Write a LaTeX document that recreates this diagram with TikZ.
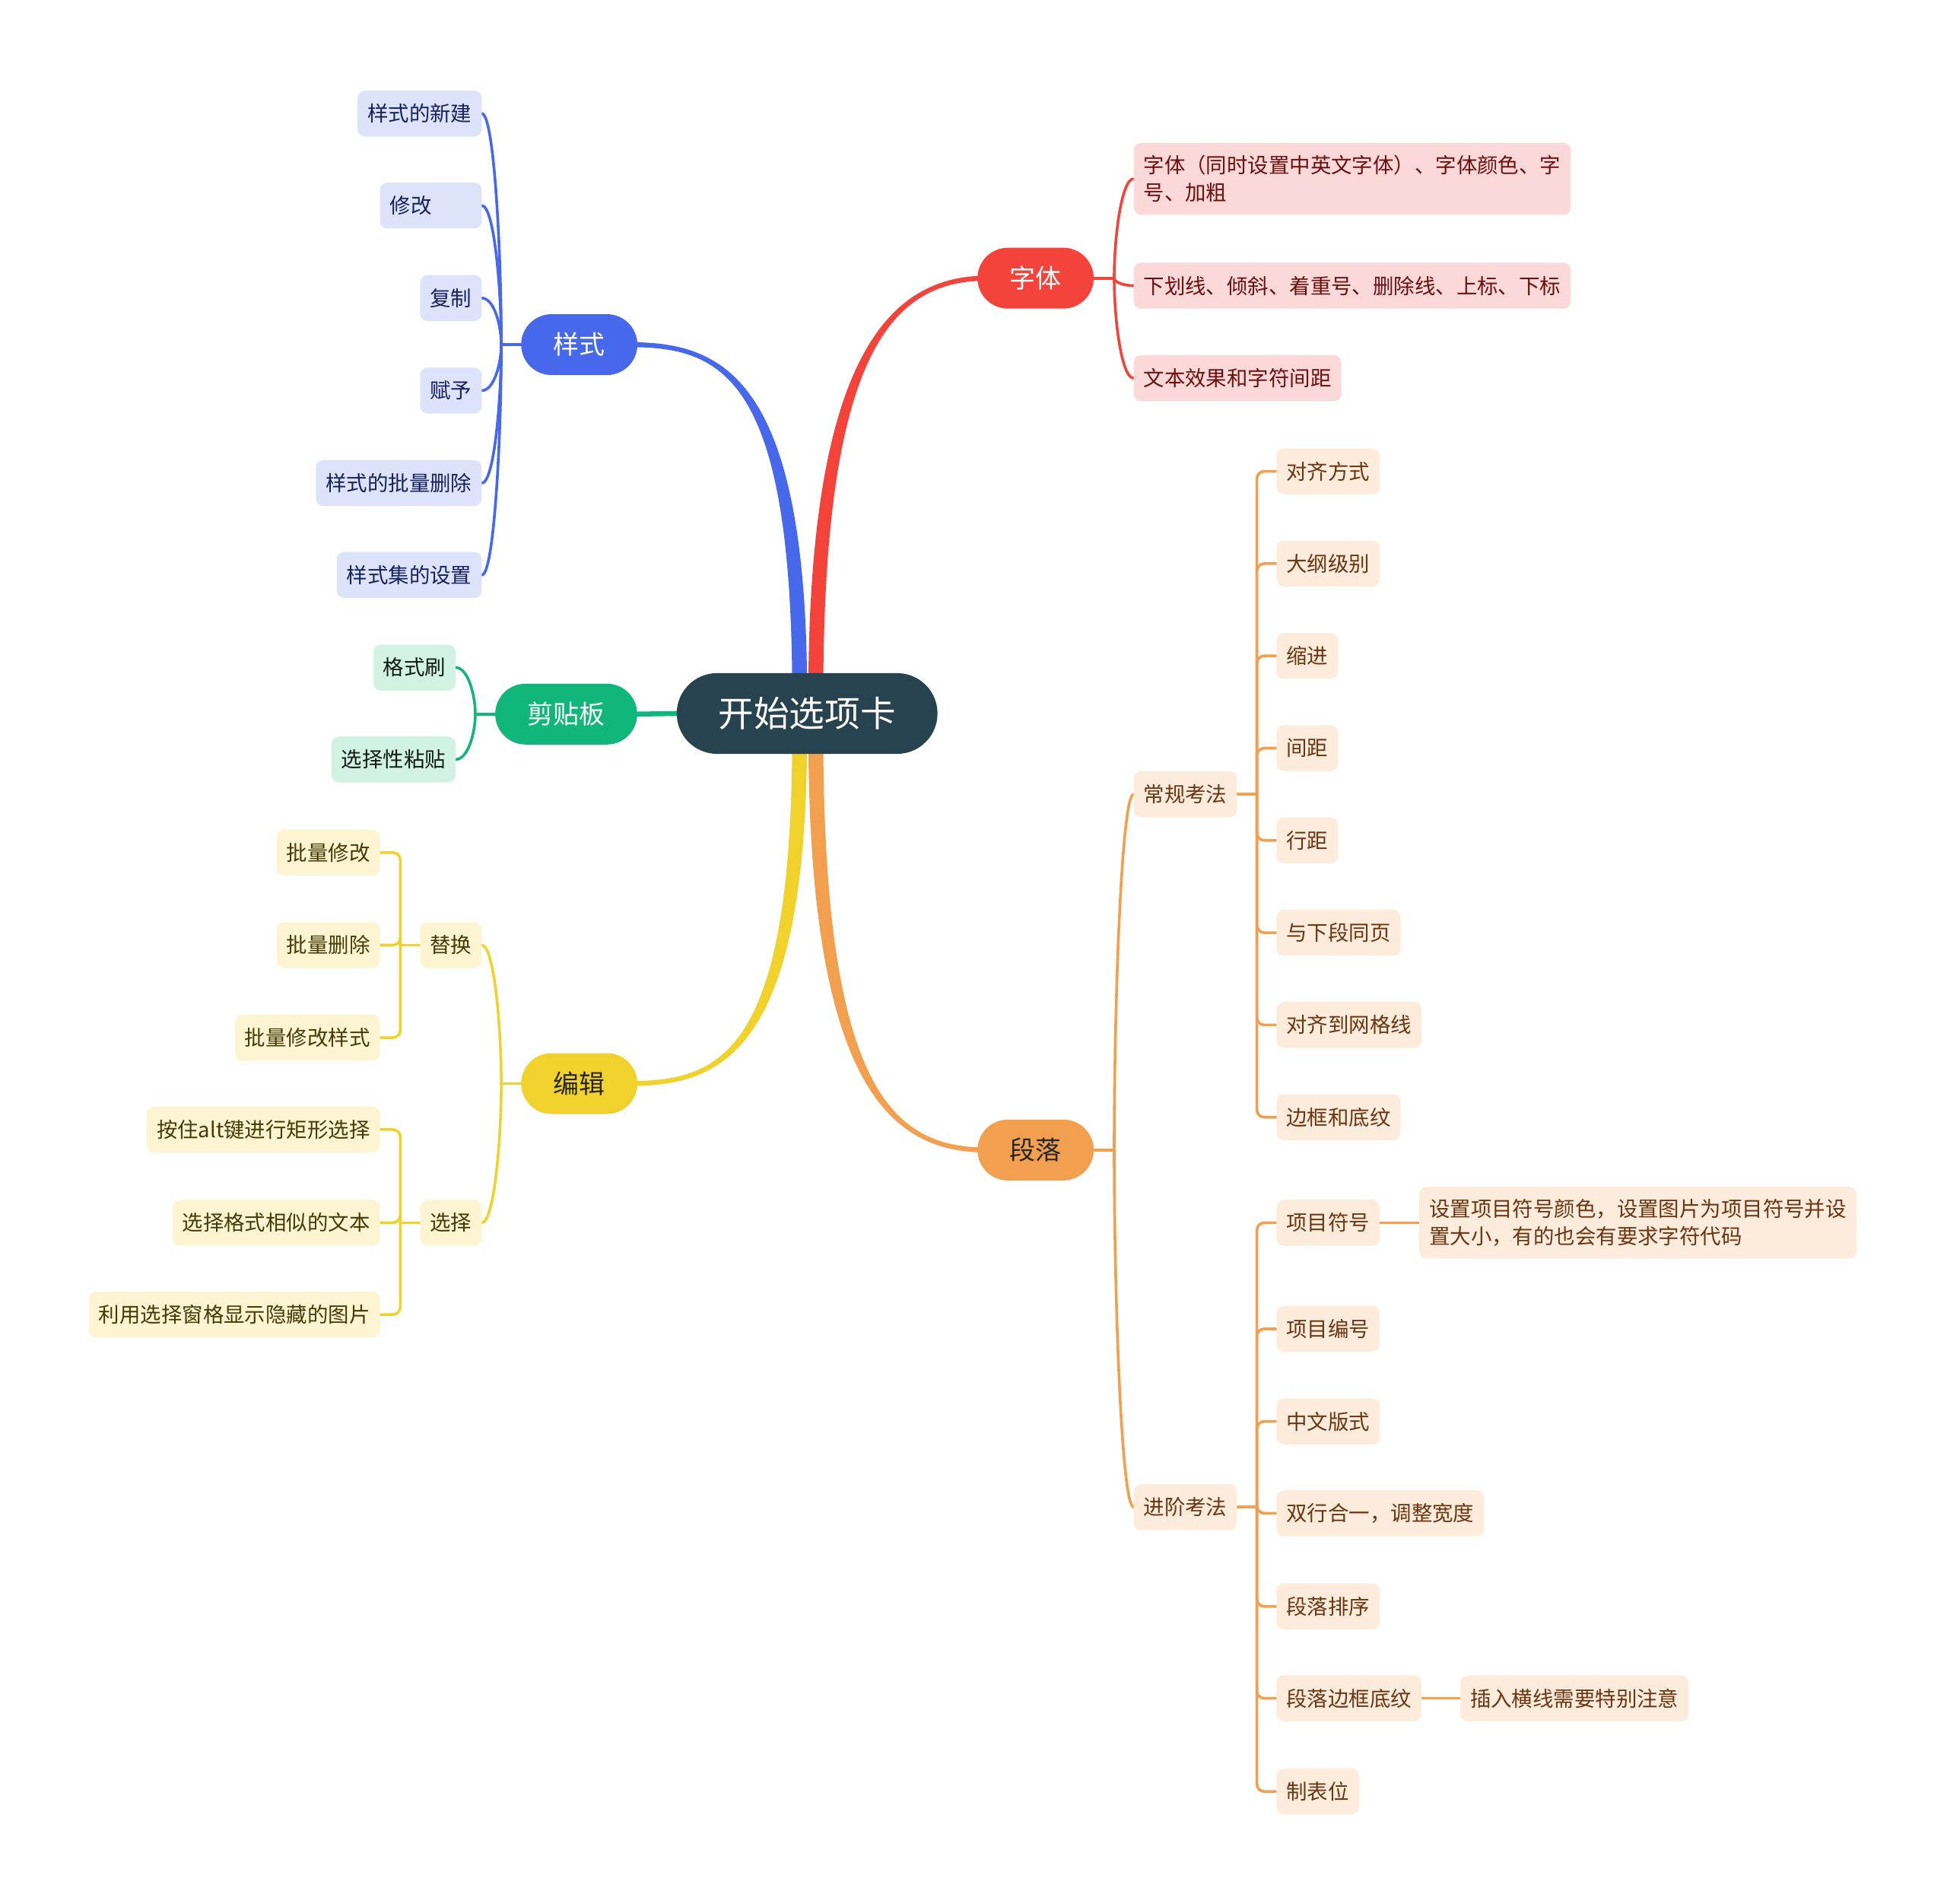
\documentclass[tikz,border=0pt]{standalone}
\usepackage{fontspec}
\setmainfont{Noto Sans CJK SC}
\usetikzlibrary{calc}
\pgfdeclarelayer{bg}
\pgfsetlayers{bg,main}
\definecolor{rootc}{HTML}{284350}
\definecolor{blueM}{HTML}{4768EA}
\definecolor{redM}{HTML}{F4433A}
\definecolor{greenM}{HTML}{10B67A}
\definecolor{yelM}{HTML}{F1D12B}
\definecolor{oraM}{HTML}{F2A04F}
\definecolor{blueL}{HTML}{DCE3FA}
\definecolor{redL}{HTML}{FCD9D9}
\definecolor{greenL}{HTML}{D2F2E4}
\definecolor{yelL}{HTML}{FDF5D2}
\definecolor{oraL}{HTML}{FDEBDC}
\definecolor{blueT}{HTML}{16215E}
\definecolor{redT}{HTML}{6B0F0F}
\definecolor{greenT}{HTML}{111A16}
\definecolor{yelT}{HTML}{453A06}
\definecolor{oraT}{HTML}{6A3510}
\tikzset{
  base/.style={inner ysep=0pt, outer sep=0pt},
  leaf/.style={base, rounded corners=6pt, inner xsep=8pt, minimum height=37pt,
    font=\fontsize{16.8pt}{22pt}\selectfont},
  twoline/.style={minimum height=58pt, align=left},
  mainnode/.style={base, rounded corners=24.5pt, inner xsep=26pt, minimum height=49pt,
    font=\fontsize{20.8pt}{25pt}\selectfont},
  rootnode/.style={base, fill=rootc, text=white, rounded corners=32.5pt,
    minimum width=210pt, minimum height=65pt, font=\fontsize{28.6pt}{34pt}\selectfont},
  leafB/.style={leaf, fill=blueL, text=blueT},
  leafR/.style={leaf, fill=redL, text=redT},
  leafG/.style={leaf, fill=greenL, text=greenT},
  leafY/.style={leaf, fill=yelL, text=yelT},
  leafO/.style={leaf, fill=oraL, text=oraT},
  conn/.style={line width=2.2pt, line cap=round},
  connB/.style={conn, draw=blueM},
  connR/.style={conn, draw=redM},
  connG/.style={conn, draw=greenM},
  connY/.style={conn, draw=yelM},
  connO/.style={conn, draw=oraM},
  elbow/.style={rounded corners=6pt},
}
\begin{document}
\begin{tikzpicture}[x=1pt,y=-1pt]
\useasboundingbox (0,0) rectangle (1568,1533);

% root and main topics
\node[rootnode] (root) at (650,574.5) {开始选项卡};
\node[mainnode, fill=blueM, text=white] (s) at (466.5,277.5) {样式};
\node[mainnode, fill=redM, text=white] (f) at (834,224) {字体};
\node[mainnode, fill=greenM, text=white] (c) at (456,575) {剪贴板};
\node[mainnode, fill=yelM, text=black!85] (e) at (466.5,872.5) {编辑};
\node[mainnode, fill=oraM, text=black!85] (p) at (834,926) {段落};

% 样式
\node[leafB, anchor=east] (s1) at (388,91.5) {样式的新建};
\node[leafB, anchor=east, text width=66pt, align=left] (s2) at (388,165.5) {修改};
\node[leafB, anchor=east] (s3) at (388,240) {复制};
\node[leafB, anchor=east] (s4) at (388,314.5) {赋予};
\node[leafB, anchor=east] (s5) at (388,389) {样式的批量删除};
\node[leafB, anchor=east] (s6) at (388,463) {样式集的设置};

% 字体
\node[leafR, twoline, anchor=west] (f1) at (913,144) {字体（同时设置中英文字体）、字体颜色、字\\号、加粗};
\node[leafR, anchor=west] (f2) at (913,230) {下划线、倾斜、着重号、删除线、上标、下标};
\node[leafR, anchor=west] (f3) at (913,304.5) {文本效果和字符间距};

% 剪贴板
\node[leafG, anchor=east] (c1) at (367,537.5) {格式刷};
\node[leafG, anchor=east] (c2) at (367,611.5) {选择性粘贴};

% 编辑
\node[leafY, anchor=east] (e1) at (388,761) {替换};
\node[leafY, anchor=east] (e2) at (388,984.5) {选择};
\node[leafY, anchor=east] (e11) at (306,686.5) {批量修改};
\node[leafY, anchor=east] (e12) at (306,761) {批量删除};
\node[leafY, anchor=east] (e13) at (306,835.5) {批量修改样式};
\node[leafY, anchor=east] (e21) at (306,909.5) {按住alt键进行矩形选择};
\node[leafY, anchor=east] (e22) at (306,984.5) {选择格式相似的文本};
\node[leafY, anchor=east] (e23) at (306,1058.5) {利用选择窗格显示隐藏的图片};

% 段落
\node[leafO, anchor=west] (p1) at (913,639.5) {常规考法};
\node[leafO, anchor=west] (p2) at (913,1213.5) {进阶考法};
\node[leafO, anchor=west] (p11) at (1028,379.5) {对齐方式};
\node[leafO, anchor=west] (p12) at (1028,453.8) {大纲级别};
\node[leafO, anchor=west] (p13) at (1028,528.1) {缩进};
\node[leafO, anchor=west] (p14) at (1028,602.4) {间距};
\node[leafO, anchor=west] (p15) at (1028,676.7) {行距};
\node[leafO, anchor=west] (p16) at (1028,751) {与下段同页};
\node[leafO, anchor=west] (p17) at (1028,825.3) {对齐到网格线};
\node[leafO, anchor=west] (p18) at (1028,899.6) {边框和底纹};
\node[leafO, anchor=west] (p21) at (1028,984.5) {项目符号};
\node[leafO, twoline, anchor=west] (p211) at (1143,984.5) {设置项目符号颜色，设置图片为项目符号并设\\置大小，有的也会有要求字符代码};
\node[leafO, anchor=west] (p22) at (1028,1070) {项目编号};
\node[leafO, anchor=west] (p23) at (1028,1144.5) {中文版式};
\node[leafO, anchor=west] (p24) at (1028,1218.5) {双行合一，调整宽度};
\node[leafO, anchor=west] (p25) at (1028,1293.5) {段落排序};
\node[leafO, anchor=west] (p26) at (1028,1367.5) {段落边框底纹};
\node[leafO, anchor=west] (p261) at (1176,1367.5) {插入横线需要特别注意};
\node[leafO, anchor=west] (p27) at (1028,1442.5) {制表位};

% junctions
\coordinate (jS) at ([xshift=-16pt]s.west);
\coordinate (jF) at ([xshift=16.5pt]f.east);
\coordinate (jC) at ([xshift=-16pt]c.west);
\coordinate (jE) at ([xshift=-16pt]e.west);
\coordinate (jP) at ([xshift=16.5pt]p.east);
\coordinate (je1) at ([xshift=-16pt]e1.west);
\coordinate (je2) at ([xshift=-16pt]e2.west);
\coordinate (jp1) at ([xshift=16pt]p1.east);
\coordinate (jp2) at ([xshift=16pt]p2.east);

\begin{pgfonlayer}{bg}
% tapered main branches
\fill[blueM] (638,560) .. controls (638,300) and (580,279.5) .. (506,279.5)
  -- (506,275.5) .. controls (580,275.5) and (650,300) .. (650,560) -- cycle;
\fill[redM] (651,560) .. controls (651,280) and (720,222) .. (795,222)
  -- (795,226) .. controls (720,226) and (663,280) .. (663,560) -- cycle;
\fill[yelM] (638,590) .. controls (638,850) and (580,870.5) .. (506,870.5)
  -- (506,874.5) .. controls (580,874.5) and (650,850) .. (650,590) -- cycle;
\fill[oraM] (651,590) .. controls (651,880) and (720,928) .. (795,928)
  -- (795,924) .. controls (720,924) and (663,880) .. (663,590) -- cycle;
\draw[greenM, line width=4pt] (root.west) -- (c.east);

% 样式 connectors
\draw[connB] (s.west) -- (jS);
\foreach \n in {s1,s2,s3,s4,s5,s6}
  \draw[connB] (\n.east) .. controls +(10,0) and ($(jS |- \n.east)!0.6!(jS)$) .. (jS);
% 字体 connectors
\draw[connR] (f.east) -- (jF);
\foreach \n in {f1,f2,f3}
  \draw[connR] (\n.west) .. controls +(-10,0) and ($(jF |- \n.west)!0.6!(jF)$) .. (jF);
% 剪贴板 connectors
\draw[connG] (c.west) -- (jC);
\foreach \n in {c1,c2}
  \draw[connG] (\n.east) .. controls +(10,0) and ($(jC |- \n.east)!0.6!(jC)$) .. (jC);
% 编辑 connectors
\draw[connY] (e.west) -- (jE);
\foreach \n in {e1,e2}
  \draw[connY] (\n.east) .. controls +(10,0) and ($(jE |- \n.east)!0.6!(jE)$) .. (jE);
\draw[connY] (e1.west) -- (je1);
\draw[connY] (e2.west) -- (je2);
\foreach \n in {e11,e12,e13}
  \draw[connY, elbow] (je1) |- (\n.east);
\foreach \n in {e21,e22,e23}
  \draw[connY, elbow] (je2) |- (\n.east);
% 段落 connectors
\draw[connO] (p.east) -- (jP);
\foreach \n in {p1,p2}
  \draw[connO] (\n.west) .. controls +(-10,0) and ($(jP |- \n.west)!0.6!(jP)$) .. (jP);
\draw[connO] (p1.east) -- (jp1);
\draw[connO] (p2.east) -- (jp2);
\foreach \n in {p11,p12,p13,p14,p15,p16,p17,p18}
  \draw[connO, elbow] (jp1) |- (\n.west);
\foreach \n in {p21,p22,p23,p24,p25,p26,p27}
  \draw[connO, elbow] (jp2) |- (\n.west);
\draw[connO] (p21.east) -- (p211.west);
\draw[connO] (p26.east) -- (p261.west);
\end{pgfonlayer}
\end{tikzpicture}
\end{document}
